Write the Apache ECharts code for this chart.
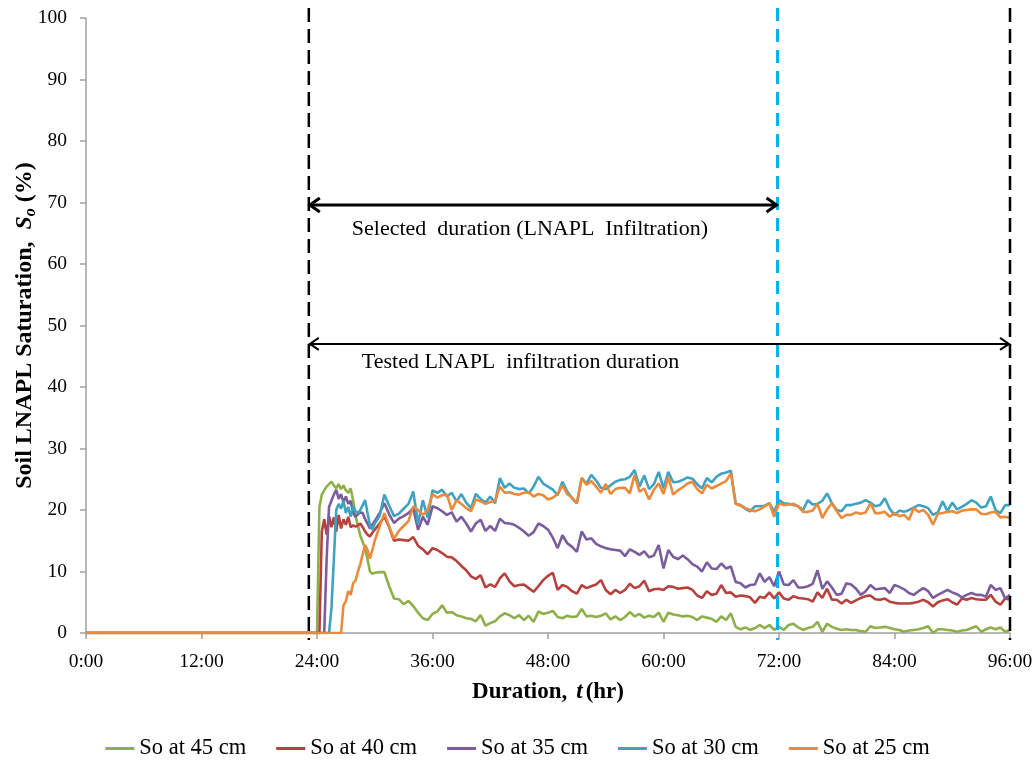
<!DOCTYPE html>
<html>
<head>
<meta charset="utf-8">
<script src="https://cdn.jsdelivr.net/npm/echarts/dist/echarts.min.js"></script>
<style>
  html, body { margin: 0; padding: 0; background: #ffffff; }
  #chart { width: 1035px; height: 760px; }
</style>
</head>
<body>
<div id="chart"></div>
<script>
// Sampling times in hours: start of record, then 15-min readings during the
// breakthrough, then 30-min readings to the end of the test.
const hours = [0];
for (let t = 23.75; t <= 30.001; t += 0.25) hours.push(+t.toFixed(2));
for (let t = 30.5; t <= 96.001; t += 0.5) hours.push(+t.toFixed(2));

// Soil LNAPL saturation So (%) at each depth, aligned with `hours`.
const so45 = [0,
  0, 0, 20.5, 22.5, 23.2, 23.8, 24.2, 24.6, 24.0, 23.5, 24.2, 23.4, 24.0, 23.2, 22.8, 23.5, 21.6, 19.0, 17.5, 15.8, 14.8, 13.8, 12.0, 10.0, 9.6, 9.8,
  9.9, 9.9, 7.6, 5.6, 5.5, 4.7, 5.2, 4.4, 3.3, 2.4,
  2.1, 3.1, 3.5, 4.5, 3.3, 3.4, 2.9, 2.7, 2.4, 2.3,
  1.9, 2.9, 1.2, 1.6, 1.9, 2.7, 3.2, 2.9, 2.4, 2.9,
  2.1, 2.8, 1.8, 3.5, 3.1, 3.3, 3.6, 2.6, 2.4, 2.8,
  2.6, 2.7, 3.9, 2.7, 2.8, 2.6, 2.8, 3.2, 2.2, 2.7,
  2.1, 2.6, 3.4, 2.7, 3.1, 2.5, 2.8, 2.6, 3.3, 1.8,
  3.3, 3.0, 2.9, 2.7, 2.8, 2.6, 2.1, 2.7, 2.5, 2.3,
  1.8, 2.7, 2.1, 3.2, 1.0, 0.6, 0.9, 0.5, 0.8, 1.3,
  0.8, 1.3, 0.5, 1.0, 0.5, 1.3, 1.5, 0.9, 0.5, 0.8,
  1.0, 1.8, 0.2, 1.5, 1.0, 0.7, 0.5, 0.6, 0.5, 0.5,
  0.3, 0.2, 1.1, 0.8, 0.9, 1.0, 0.8, 0.6, 0.5, 0.2,
  0.4, 0.5, 0.6, 0.8, 1.1, 0.0, 0.6, 0.6, 0.5, 0.4,
  0.2, 0.4, 0.5, 0.8, 1.1, 0.2, 0.6, 0.9, 0.6, 0.9,
  0.2, 0.5];

const so40 = [0,
  0, 0, 0, 16.5, 18.5, 16.0, 19.0, 17.2, 18.8, 16.5, 19.2, 17.0, 18.5, 17.6, 18.9, 17.2, 17.5, 17.3, 17.5, 17.8, 17.2, 16.5, 16.0, 15.7, 16.3, 16.8,
  17.8, 18.9, 17.2, 15.0, 15.2, 15.1, 15.0, 15.6, 14.2, 13.6,
  12.8, 13.8, 13.5, 13.0, 12.4, 12.3, 11.7, 10.9, 10.2, 9.2,
  8.8, 9.4, 7.4, 7.9, 7.5, 8.9, 9.7, 8.4, 7.6, 7.8,
  7.9, 7.3, 6.7, 7.6, 8.6, 9.3, 9.8, 7.0, 7.8, 7.5,
  6.8, 6.4, 7.8, 7.3, 7.6, 7.9, 8.6, 7.0, 6.3, 7.0,
  6.5, 7.0, 8.0, 7.3, 7.6, 8.5, 6.8, 7.1, 7.2, 7.0,
  7.6, 7.5, 7.2, 7.3, 7.4, 7.0, 6.1, 5.7, 6.8, 6.2,
  6.4, 7.8, 6.5, 6.6, 5.9, 6.1, 6.0, 5.8, 4.9, 5.9,
  5.7, 6.6, 5.6, 6.6, 5.6, 5.4, 6.0, 5.7, 5.6, 5.5,
  5.1, 6.6, 5.7, 7.2, 5.4, 5.4, 4.8, 5.4, 4.9, 5.3,
  5.7, 6.0, 6.1, 5.5, 5.4, 5.6, 5.1, 4.9, 4.8, 4.8,
  4.8, 4.9, 5.1, 5.4, 5.0, 4.3, 5.0, 5.3, 5.5, 5.0,
  4.6, 5.6, 5.4, 5.7, 5.5, 5.4, 5.4, 6.2, 5.1, 4.6,
  5.6, 5.4];

const so35 = [0,
  0, 0, 0, 0, 0, 12.0, 20.5, 21.5, 22.5, 23.3, 21.8, 22.6, 21.2, 22.2, 21.0, 21.5, 19.5, 18.9, 19.3, 19.6, 19.5, 18.5, 17.8, 17.0, 17.6, 18.2,
  19.5, 21.1, 19.3, 17.9, 18.6, 19.0, 19.5, 20.3, 16.8, 18.9,
  17.6, 20.6, 20.3, 19.8, 19.2, 19.6, 18.1, 18.9, 17.8, 16.5,
  17.8, 18.4, 16.6, 17.4, 16.6, 18.6, 17.9, 17.8, 17.6, 17.1,
  16.5, 15.8, 16.4, 17.8, 17.4, 16.8, 15.5, 13.8, 15.9, 14.6,
  14.0, 13.2, 16.5, 15.2, 15.4, 14.5, 14.1, 13.8, 13.6, 13.5,
  13.4, 12.5, 13.6, 13.2, 12.7, 13.3, 12.3, 12.6, 14.3, 10.5,
  13.5, 12.4, 12.0, 12.6, 12.0, 11.2, 10.8, 10.0, 11.5, 10.5,
  10.4, 11.3, 10.5, 10.8, 8.3, 8.1, 7.4, 7.8, 7.9, 9.7,
  8.3, 9.1, 7.6, 10.0, 7.9, 7.8, 8.6, 7.4, 7.4, 7.6,
  8.0, 10.2, 7.2, 8.4, 7.4, 6.2, 6.4, 8.1, 7.9, 7.2,
  6.2, 6.8, 7.8, 7.1, 7.2, 7.3, 6.5, 7.8, 7.5, 7.1,
  6.5, 6.2, 6.8, 7.3, 6.8, 5.7, 6.2, 6.6, 7.0, 6.6,
  6.3, 5.8, 6.2, 6.5, 6.2, 6.2, 5.9, 7.8, 7.0, 7.3,
  5.6, 6.2];

const so30 = [0,
  0, 0, 0, 0, 0, 0, 0, 4.0, 12.0, 20.0, 21.0, 20.2, 21.5, 19.5, 20.5, 18.9, 20.6, 19.8, 19.5, 20.0, 20.8, 21.6, 19.5, 17.5, 16.8, 17.8,
  19.0, 22.5, 20.7, 19.0, 19.4, 20.2, 21.0, 23.0, 17.8, 21.6,
  18.7, 23.2, 22.8, 23.3, 22.2, 22.8, 21.4, 22.6, 21.2, 20.3,
  22.6, 21.8, 21.2, 22.2, 21.1, 25.2, 23.6, 24.3, 23.6, 23.4,
  23.5, 22.7, 23.8, 25.4, 24.3, 23.8, 23.3, 22.4, 24.6, 23.0,
  21.9, 21.1, 25.2, 24.3, 25.7, 24.8, 23.6, 23.4, 24.0, 24.6,
  24.9, 25.0, 25.4, 26.5, 23.8, 25.6, 23.4, 24.2, 26.2, 23.5,
  26.2, 24.5, 24.6, 24.9, 25.3, 25.1, 24.2, 23.5, 25.2, 24.5,
  25.4, 25.9, 26.1, 26.4, 21.0, 20.8, 20.2, 19.8, 20.6, 20.6,
  20.7, 21.1, 19.7, 21.6, 21.1, 21.0, 20.8, 20.6, 20.0, 21.6,
  20.9, 21.0, 21.5, 22.7, 21.1, 20.0, 19.8, 20.8, 20.8, 21.0,
  21.2, 21.6, 21.2, 20.6, 20.8, 21.9, 20.2, 19.2, 19.9, 19.7,
  20.0, 20.4, 20.8, 20.6, 20.3, 19.2, 19.6, 21.4, 19.8, 21.2,
  20.1, 20.5, 21.0, 21.6, 21.2, 20.4, 20.6, 22.2, 20.0, 19.5,
  20.8, 20.8];

const so25 = [0,
  0, 0, 0, 0, 0, 0, 0, 0, 0, 0, 0, 0, 4.5, 5.2, 6.8, 6.2, 8.1, 8.5, 10.0, 11.2, 12.8, 14.3, 13.5, 12.1, 13.5, 15.0,
  17.3, 19.5, 17.3, 15.3, 16.6, 17.4, 18.2, 20.6, 20.0, 19.2,
  20.0, 22.6, 22.0, 22.4, 22.5, 20.0, 21.6, 21.0, 20.3, 19.8,
  21.7, 21.4, 21.0, 21.3, 21.5, 23.8, 22.8, 22.9, 22.6, 22.5,
  22.8, 22.9, 22.2, 22.6, 22.4, 21.7, 22.0, 22.6, 24.0, 22.6,
  22.0, 21.1, 25.2, 24.1, 24.7, 23.8, 22.8, 24.2, 22.6, 23.4,
  23.6, 23.6, 22.7, 25.7, 23.0, 23.5, 21.7, 23.3, 24.3, 22.6,
  25.4, 22.5, 23.2, 23.7, 24.3, 24.6, 23.4, 22.7, 24.1, 23.5,
  23.9, 24.3, 24.7, 26.0, 21.0, 20.7, 20.3, 20.0, 19.8, 20.1,
  20.6, 21.1, 18.9, 21.1, 20.8, 20.9, 21.0, 20.6, 19.7, 19.7,
  19.9, 21.0, 18.7, 20.1, 21.1, 19.8, 18.7, 19.2, 19.2, 19.6,
  19.4, 19.6, 21.1, 19.5, 19.5, 19.7, 18.9, 19.5, 19.0, 19.2,
  18.4, 20.3, 19.7, 20.0, 19.2, 17.6, 19.4, 19.5, 19.7, 19.8,
  19.5, 19.9, 20.0, 20.1, 20.1, 19.4, 19.3, 19.6, 19.7, 18.8,
  18.9, 18.7];

const seriesNames = ['So at 45 cm', 'So at 40 cm', 'So at 35 cm', 'So at 30 cm', 'So at 25 cm'];
const seriesValues = [so45, so40, so35, so30, so25];
const seriesColors = ['#8DB04B', '#B5423F', '#7B5C9D', '#3FA2C0', '#EB8A3A'];

// Dashed dividers (hours): start of infiltration, end of selected window, end of test.
const dividerHours = [23.15, 71.85, 96];
const dividerColors = ['#000000', '#00B0F0', '#000000'];

// Duration brackets: start hour, end hour, level (% axis) and caption.
const spanStart = [23.15, 23.15];
const spanEnd = [71.85, 96];
const spanLevel = [69.6, 47.0];
const spanLabels = ['Selected  duration (LNAPL  Infiltration)', 'Tested LNAPL  infiltration duration'];

const FONT = "'Liberation Serif', 'Times New Roman', serif";

const chart = echarts.init(document.getElementById('chart'), null, { renderer: 'canvas' });

const lineSeries = seriesNames.map((name, k) => ({
  name,
  type: 'line',
  data: hours.map((h, i) => [h, seriesValues[k][i]]),
  showSymbol: false,
  symbol: 'none',
  lineStyle: { color: seriesColors[k], width: 2.6 },
  itemStyle: { color: seriesColors[k] },
  z: 2 + k
}));

// Vertical dashed dividers, drawn a little past the plot frame.
const dividerSeries = {
  type: 'custom',
  silent: true,
  clip: false,
  z: 10,
  data: dividerHours.map((h, i) => [h, 0, i]),
  renderItem(params, api) {
    const x = api.coord([api.value(0), 0])[0];
    const yBottom = api.coord([0, 0])[1] + 7;
    const yTop = api.coord([0, 100])[1] - 10;
    const idx = api.value(2);
    return {
      type: 'line',
      shape: { x1: x, y1: yTop, x2: x, y2: yBottom },
      style: {
        stroke: dividerColors[idx],
        lineWidth: idx === 1 ? 3 : 2.5,
        lineDash: idx === 1 ? [13, 8] : [14, 7]
      }
    };
  }
};

// Double-headed duration brackets with their captions.
const spanSeries = {
  type: 'custom',
  silent: true,
  clip: false,
  z: 11,
  data: spanStart.map((s, i) => [s, spanLevel[i], spanEnd[i], i]),
  renderItem(params, api) {
    const i = api.value(3);
    const p0 = api.coord([api.value(0), api.value(1)]);
    const p1 = api.coord([api.value(2), api.value(1)]);
    const y = p0[1];
    const heavy = i === 0;
    const w = heavy ? 3 : 2;
    const ah = heavy ? 11 : 10;
    const av = heavy ? 7 : 6;
    const stroke = { stroke: '#000', lineWidth: w, fill: null, lineJoin: 'miter' };
    return {
      type: 'group',
      children: [
        { type: 'line', shape: { x1: p0[0] + 1, y1: y, x2: p1[0] - 1, y2: y }, style: stroke },
        { type: 'polyline', shape: { points: [[p0[0] + ah, y - av], [p0[0] + 1, y], [p0[0] + ah, y + av]] }, style: stroke },
        { type: 'polyline', shape: { points: [[p1[0] - ah, y - av], [p1[0] - 1, y], [p1[0] - ah, y + av]] }, style: stroke },
        {
          type: 'text',
          style: {
            text: spanLabels[i],
            x: p0[0] + (heavy ? 43 : 53),
            y: y + (heavy ? 24 : 18),
            verticalAlign: 'middle',
            align: 'left',
            fill: '#000',
            font: '22px ' + FONT
          }
        }
      ]
    };
  }
};

const option = {
  animation: false,
  backgroundColor: '#ffffff',
  textStyle: { fontFamily: FONT },
  grid: { left: 86, right: 25, top: 18, bottom: 127, containLabel: false, outerBoundsMode: 'none' },
  legend: {
    data: seriesNames,
    top: 732,
    left: 'center',
    icon: 'rect',
    itemWidth: 29,
    itemHeight: 3,
    itemGap: 30,
    textStyle: { fontFamily: FONT, fontSize: 22.5, color: '#000' }
  },
  xAxis: {
    type: 'value',
    min: 0,
    max: 96,
    interval: 12,
    name: '{b|Duration,}   {i|t} {b|(hr)}',
    nameLocation: 'middle',
    nameGap: 48,
    nameMoveOverlap: false,
    nameTextStyle: {
      rich: {
        b: { fontFamily: FONT, fontWeight: 'bold', fontSize: 23, color: '#000' },
        i: { fontFamily: FONT, fontWeight: 'bold', fontStyle: 'italic', fontSize: 23, color: '#000' }
      }
    },
    axisLine: { show: true, onZero: false, lineStyle: { color: '#A0A0A0', width: 1.5 } },
    axisTick: { show: true, inside: false, length: 6, lineStyle: { color: '#A0A0A0', width: 1.5 } },
    axisLabel: {
      margin: 19,
      fontFamily: FONT,
      fontSize: 19.5,
      color: '#000',
      formatter: (v) => v + ':00'
    },
    splitLine: { show: false }
  },
  yAxis: {
    type: 'value',
    min: 0,
    max: 100,
    interval: 10,
    name: '{b|Soil LNAPL Saturation,  }{i|S}{s|o}{b| (%)}',
    nameLocation: 'middle',
    nameGap: 47,
    nameMoveOverlap: false,
    nameTextStyle: {
      rich: {
        b: { fontFamily: FONT, fontWeight: 'bold', fontSize: 24, color: '#000', lineHeight: 28, verticalAlign: 'middle' },
        i: { fontFamily: FONT, fontWeight: 'bold', fontStyle: 'italic', fontSize: 24, color: '#000', lineHeight: 28, verticalAlign: 'middle' },
        s: { fontFamily: FONT, fontWeight: 'bold', fontStyle: 'italic', fontSize: 16, color: '#000', lineHeight: 16, verticalAlign: 'bottom' }
      }
    },
    axisLine: { show: true, lineStyle: { color: '#A0A0A0', width: 1.5 } },
    axisTick: { show: true, inside: false, length: 6, lineStyle: { color: '#A0A0A0', width: 1.5 } },
    axisLabel: { margin: 19, fontFamily: FONT, fontSize: 19.5, color: '#000' },
    splitLine: { show: false }
  },
  series: [...lineSeries, dividerSeries, spanSeries]
};

chart.setOption(option);
</script>
</body>
</html>
